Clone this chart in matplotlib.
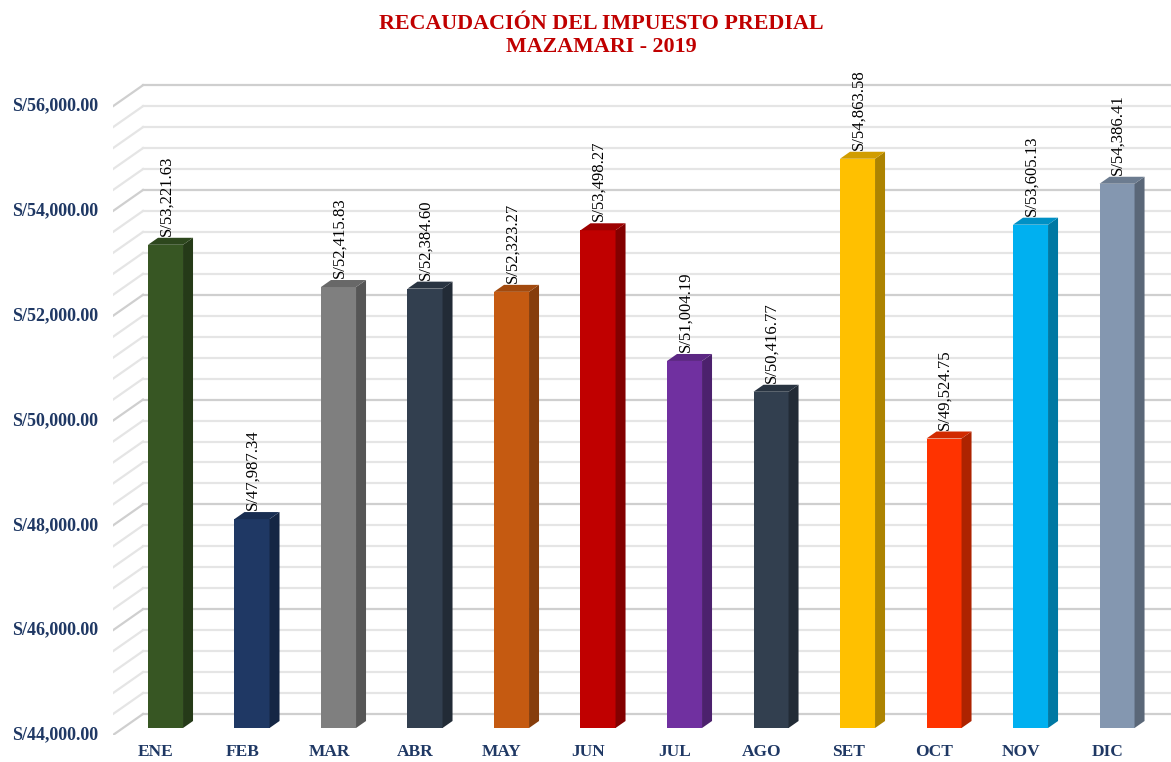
import matplotlib.pyplot as plt
from matplotlib.patches import Polygon
from matplotlib.colors import to_rgb
import numpy as np

months = ['ENE', 'FEB', 'MAR', 'ABR', 'MAY', 'JUN',
          'JUL', 'AGO', 'SET', 'OCT', 'NOV', 'DIC']
values = [53221.63, 47987.34, 52415.83, 52384.60, 52323.27, 53498.27,
          51004.19, 50416.77, 54863.58, 49524.75, 53605.13, 54386.41]
colors = ['#375623', '#1F3864', '#7F7F7F', '#323F4F', '#C55A11', '#C00000',
          '#7030A0', '#323F4F', '#FFC000', '#FF3300', '#00B0F0', '#8497B0']
yticks = [44000, 46000, 48000, 50000, 52000, 54000, 56000]

serif = 'Liberation Serif'
navy = '#1F3864'

fig = plt.figure(figsize=(11.71, 7.62), dpi=100)
ax = fig.add_axes([113 / 1171, 27 / 762, 1058 / 1171, 655 / 762])
ymin, ymax = 44000, 56500
xmin, xmax = -0.607, 11.624
ax.set_xlim(xmin, xmax)
ax.set_ylim(ymin, ymax)
ax.axis('off')

# pixel -> data conversion
px_x = (xmax - xmin) / 1058
px_y = (ymax - ymin) / 655

# back wall: offset (30px, -21px)
wdx, wdy = 30 * px_x, 21 * px_y
for v in np.arange(44000, 56001, 400):
    major = (v % 2000 == 0)
    c = '#cfcfcf' if major else '#e5e5e5'
    ax.plot([xmin, xmin + wdx], [v, v + wdy], color=c, lw=1.6, zorder=1)
    ax.plot([xmin + wdx, xmax], [v + wdy, v + wdy], color=c, lw=1.6, zorder=1)

# bars with pseudo 3D faces
bw = 0.2025
bdy = 7 * px_y        # bars sit slightly behind the front plane
sdx, sdy = 10 * px_x, 7 * px_y
for i, (v, col) in enumerate(zip(values, colors)):
    rgb = np.array(to_rgb(col))
    base = ymin + bdy
    top = v + bdy
    ax.bar(i, top - base, bottom=base, width=2 * bw, color=col, zorder=3)
    side = Polygon([(i + bw, base), (i + bw, top), (i + bw + sdx, top + sdy),
                    (i + bw + sdx, base + sdy)], closed=True,
                   facecolor=rgb * 0.68, edgecolor='none', zorder=3)
    roof = Polygon([(i - bw, top), (i + bw, top), (i + bw + sdx, top + sdy),
                    (i - bw + sdx, top + sdy)], closed=True,
                   facecolor=rgb * 0.82, edgecolor='none', zorder=3)
    ax.add_patch(side)
    ax.add_patch(roof)
    ax.text(i + 0.01, top + sdy + 2 * px_y, 'S/{:,.2f}'.format(v),
            rotation=90, ha='center', va='bottom', fontsize=12,
            family=serif, color='black', zorder=4)

# category labels at the front plane
for i, m in enumerate(months):
    ax.text(i - 0.11, ymin - 17 * px_y, m, ha='center', va='center',
            fontsize=12.5, fontweight='bold', family=serif, color=navy)

# value axis labels
for t in yticks:
    ax.text(xmin - 15 * px_x, t, 'S/{:,.2f}'.format(t), ha='right', va='center',
            fontsize=13, fontweight='bold', family=serif, color=navy,
            clip_on=False)

fig.text(0.5135, 1 - 24 / 762, 'RECAUDACIÓN DEL IMPUESTO PREDIAL',
         ha='center', va='center', fontsize=15.8, fontweight='bold',
         family=serif, color='#C00000')
fig.text(0.5135, 1 - 47 / 762, 'MAZAMARI - 2019',
         ha='center', va='center', fontsize=15.8, fontweight='bold',
         family=serif, color='#C00000')

fig.savefig('out.png', dpi=100)
